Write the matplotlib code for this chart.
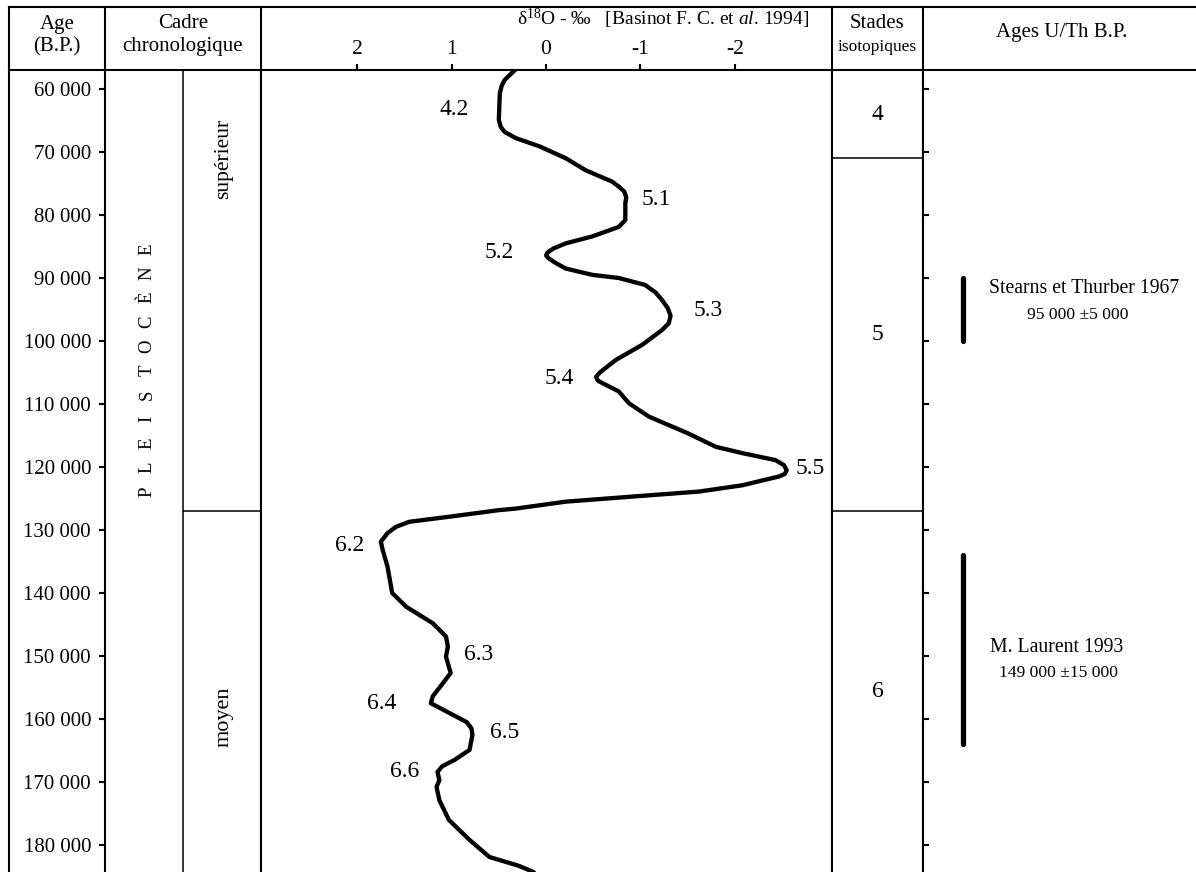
import matplotlib
matplotlib.use('Agg')
import matplotlib.pyplot as plt
from matplotlib.lines import Line2D
import numpy as np

plt.rcParams['font.family'] = ['Liberation Serif', 'DejaVu Serif']
plt.rcParams['mathtext.fontset'] = 'custom'
plt.rcParams['mathtext.rm'] = 'Liberation Serif'
plt.rcParams['mathtext.it'] = 'Liberation Serif:italic'

# --- data ---
age = [57000, 58000, 58600, 59500, 60700, 64900, 66000, 66800, 67800, 69100,
       71000, 72900, 74700, 75600, 76300, 77200, 78100, 80800, 81900, 83400,
       84500, 85300, 85900, 86400, 86900, 87600, 88500, 89500, 90000, 91100,
       92300, 93500, 94800, 96000, 97200, 98250, 100600, 103000, 105000, 105700,
       106300, 106700, 108000, 109900, 112000, 114700, 116800, 117800, 118900, 119700,
       120500, 121100, 121500, 122900, 123900, 124700, 125500, 126600, 126850, 127900,
       128700, 129500, 130500, 131850, 133200, 135800, 140000, 142200, 144800, 146900,
       148500, 150100, 152700, 156400, 157500, 159000, 160500, 161500, 162500, 164900,
       166500, 167500, 168400, 169700, 170800, 172900, 176000, 179200, 181900, 183300,
       184300]
d18o = [0.33, 0.40, 0.44, 0.47, 0.49, 0.50, 0.48, 0.44, 0.32, 0.07,
        -0.21, -0.42, -0.70, -0.78, -0.83, -0.85, -0.84, -0.84, -0.77, -0.49,
        -0.21, -0.08, -0.02, 0.00, -0.03, -0.10, -0.21, -0.49, -0.77, -1.05,
        -1.16, -1.23, -1.29, -1.32, -1.30, -1.23, -1.02, -0.74, -0.57, -0.53,
        -0.55, -0.60, -0.77, -0.88, -1.09, -1.51, -1.80, -2.08, -2.43, -2.52,
        -2.55, -2.53, -2.47, -2.08, -1.62, -0.91, -0.21, 0.32, 0.50, 1.03,
        1.45, 1.59, 1.68, 1.75, 1.73, 1.68, 1.63, 1.48, 1.20, 1.06,
        1.04, 1.06, 1.01, 1.20, 1.22, 1.03, 0.84, 0.79, 0.78, 0.81,
        0.97, 1.10, 1.15, 1.13, 1.16, 1.13, 1.03, 0.81, 0.60, 0.29,
        0.13]

substage_names = ['4.2', '5.1', '5.2', '5.3', '5.4', '5.5', '6.2', '6.3', '6.4', '6.5', '6.6']
substage_age = [63300, 77500, 85900, 95100, 105900, 120300, 132500, 149800, 157500, 162100, 168300]
substage_x = [0.97, -1.17, 0.50, -1.72, -0.14, -2.80, 2.08, 0.71, 1.74, 0.44, 1.50]

age_ticks = list(range(60000, 180001, 10000))
age_tick_labels = ['60 000', '70 000', '80 000', '90 000', '100 000', '110 000', '120 000',
                   '130 000', '140 000', '150 000', '160 000', '170 000', '180 000']
d18o_ticks = [2, 1, 0, -1, -2]
d18o_tick_labels = ['2', '1', '0', '-1', '-2']

stages = ['4', '5', '6']
stage_bounds = [57000, 71000, 127000, 184300]
epoch_bound = 127000

uth_refs = ['Stearns et Thurber 1967', 'M. Laurent 1993']
uth_age = [95000, 149000]
uth_err = [5000, 15000]

W, H = 1196, 872
AGE_TOP, AGE_BOT = 56984, 184286


def rect(x0, y0, x1, y1):
    return [x0 / W, 1 - y1 / H, (x1 - x0) / W, (y1 - y0) / H]


def fline(fig, x0, y0, x1, y1, lw=1.5):
    fig.add_artist(Line2D([x0 / W, x1 / W], [1 - y0 / H, 1 - y1 / H],
                          transform=fig.transFigure, color='black', lw=lw))


def fmt(v):
    return f'{v:,}'.replace(',', ' ')


fig = plt.figure(figsize=(11.96, 8.72), dpi=100)

ax_cad = fig.add_axes(rect(105, 70, 261, 872))
ax = fig.add_axes(rect(261, 70, 832, 872), sharey=ax_cad)
ax_st = fig.add_axes(rect(832, 70, 923, 872), sharey=ax_cad)
ax_u = fig.add_axes(rect(923, 70, 1200, 872), sharey=ax_cad)

for a in (ax_cad, ax, ax_st, ax_u):
    for s in a.spines.values():
        s.set_linewidth(1.5)
    a.spines['bottom'].set_visible(False)
ax_u.spines['right'].set_visible(False)

ax_cad.set_ylim(AGE_BOT, AGE_TOP)

# age column (ticks on the cadre axis)
ax_cad.set_xlim(0, 1)
ax_cad.set_xticks([])
ax_cad.set_yticks(age_ticks)
ax_cad.set_yticklabels(age_tick_labels)
ax_cad.tick_params(axis='y', direction='out', length=4, width=1.5, labelsize=15, pad=6)
ax_cad.axvline(0.5, color='black', lw=1.1)
ax_cad.hlines(epoch_bound, 0.5, 1, color='black', lw=1.1)
letters = list('PLEISTOCÈNE')
for ch, yy in zip(letters, np.linspace(123970, 85400, len(letters))):
    ax_cad.text(0.27, yy, ch, rotation=90, ha='center', va='center', fontsize=13.5)
ax_cad.text(0.76, 71100, 'supérieur', rotation=90, ha='center', va='center', fontsize=15.5)
ax_cad.text(0.76, 159700, 'moyen', rotation=90, ha='center', va='center', fontsize=16)

# main isotope curve
ax.plot(d18o, age, color='black', lw=3.1, solid_joinstyle='round', solid_capstyle='round')
ax.set_xlim(3.02, -3.03)
ax.xaxis.tick_top()
ax.set_xticks(d18o_ticks)
ax.set_xticklabels(d18o_tick_labels)
ax.tick_params(axis='x', direction='out', length=4, width=1.5, labelsize=15.5, pad=4)
ax.tick_params(axis='y', left=False, labelleft=False)
for name, a_, x_ in zip(substage_names, substage_age, substage_x):
    ax.text(x_, a_, name, ha='center', va='center', fontsize=17)

# isotopic stages
ax_st.set_xlim(0, 1)
ax_st.set_xticks([])
ax_st.tick_params(axis='y', left=False, labelleft=False)
for b in stage_bounds[1:-1]:
    ax_st.axhline(b, color='black', lw=1.1)
for i, s in enumerate(stages):
    ax_st.text(0.5, (stage_bounds[i] + stage_bounds[i + 1]) / 2, s,
               ha='center', va='center', fontsize=17)

# U/Th ages
ax_u.set_xlim(0, 1)
ax_u.set_xticks([])
ax_u.tick_params(axis='y', direction='in', length=4.5, width=1.5, labelleft=False)
uth_line1 = [91600, 148600]
uth_line2 = [95900, 152700]
uth_cx1 = [0.582, 0.483]
uth_cx2 = [0.557, 0.49]
for i in range(len(uth_refs)):
    ax_u.plot([0.143, 0.143], [uth_age[i] - uth_err[i], uth_age[i] + uth_err[i]],
              color='black', lw=3.8, solid_capstyle='round')
    ax_u.text(uth_cx1[i], uth_line1[i], uth_refs[i], ha='center', va='center', fontsize=14.2)
    ax_u.text(uth_cx2[i], uth_line2[i], fmt(uth_age[i]) + ' ±' + fmt(uth_err[i]),
              ha='center', va='center', fontsize=12.6)

# header frame
fline(fig, 9, 7, 1196, 7)
fline(fig, 9, 70, 105, 70)
for x in (105, 261, 832, 923):
    fline(fig, x, 7, x, 70)
fline(fig, 9, 7, 9, 872)

# header texts
fig.text(57 / W, 1 - 24 / H, 'Age', ha='center', va='center', fontsize=15)
fig.text(57 / W, 1 - 47 / H, '(B.P.)', ha='center', va='center', fontsize=15)
fig.text(183 / W, 1 - 24 / H, 'Cadre', ha='center', va='center', fontsize=15)
fig.text(183 / W, 1 - 47 / H, 'chronologique', ha='center', va='center', fontsize=15)
fig.text(877 / W, 1 - 24 / H, 'Stades', ha='center', va='center', fontsize=15)
fig.text(877 / W, 1 - 47 / H, 'isotopiques', ha='center', va='center', fontsize=12.5)
fig.text(1062 / W, 1 - 33 / H, 'Ages U/Th B.P.', ha='center', va='center', fontsize=15)
fig.text(663 / W, 1 - 19 / H, r'δ$^{18}$O - $\it{‰}$   [Basinot F. C. et $\it{al}$. 1994]',
         ha='center', va='center', fontsize=14)

fig.savefig('out.png', dpi=100)
